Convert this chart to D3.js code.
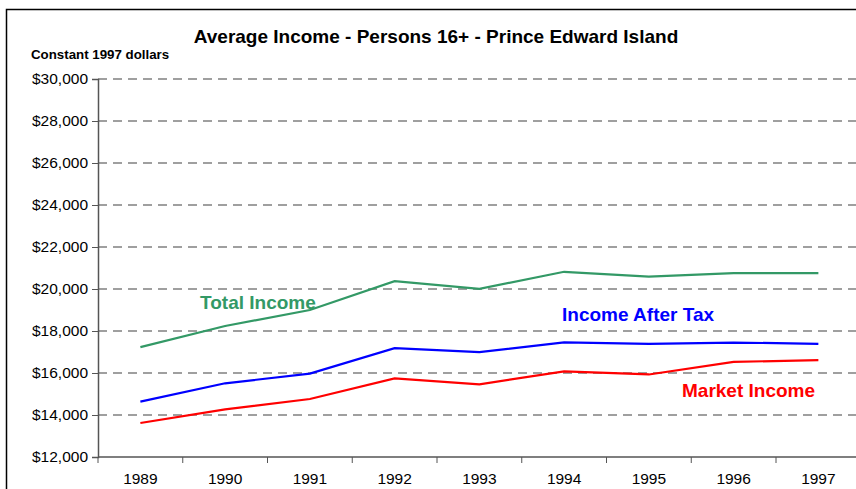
<!DOCTYPE html>
<html>
<head>
<meta charset="utf-8">
<script src="https://cdn.jsdelivr.net/npm/d3@7"></script>
<style>
  body { margin: 0; background: #fff; }
  svg { display: block; font-family: "Liberation Sans", Arial, sans-serif; }
</style>
</head>
<body>
<div id="chart"></div>
<script>
const years = ["1989", "1990", "1991", "1992", "1993", "1994", "1995", "1996", "1997"];
const totalIncome = [17230, 18240, 19000, 20370, 20010, 20820, 20590, 20760, 20760];
const afterTax = [14640, 15510, 15970, 17180, 16990, 17460, 17390, 17450, 17390];
const marketIncome = [13620, 14270, 14760, 15740, 15460, 16080, 15930, 16530, 16610];
const yTicks = [12000, 14000, 16000, 18000, 20000, 22000, 24000, 26000, 28000, 30000];

const series = [
    {name: "Total Income", values: totalIncome, color: "#339966", lx: 200, ly: 309},
    {name: "Income After Tax", values: afterTax, color: "#0000ff", lx: 562, ly: 321},
    {name: "Market Income", values: marketIncome, color: "#ff0000", lx: 682, ly: 397}
];

const W = 856, H = 489;
const margin = {top: 79, left: 98};
const plotW = 762.75, plotH = 378;

const svg = d3.select("#chart").append("svg")
    .attr("width", W)
    .attr("height", H);

// outer chart frame (runs off the right and bottom edge)
svg.append("rect")
    .attr("x", 6.5).attr("y", 9.5)
    .attr("width", 1000).attr("height", 1000)
    .attr("fill", "none")
    .attr("stroke", "#000")
    .attr("stroke-width", 1.5);

svg.append("text")
    .attr("x", 436).attr("y", 43)
    .attr("text-anchor", "middle")
    .attr("font-size", 19)
    .attr("font-weight", "bold")
    .text("Average Income - Persons 16+ - Prince Edward Island");

svg.append("text")
    .attr("x", 31).attr("y", 59)
    .attr("font-size", 13.3)
    .attr("font-weight", "bold")
    .text("Constant 1997 dollars");

const g = svg.append("g")
    .attr("transform", "translate(" + margin.left + "," + margin.top + ")");

const x = d3.scaleBand()
    .domain(years)
    .range([0, plotW]);

const y = d3.scaleLinear()
    .domain([12000, 30000])
    .range([plotH, 0]);

// gridlines
g.selectAll(".grid")
    .data(yTicks.filter(d => d > 12000))
    .enter()
    .append("line")
    .attr("class", "grid")
    .attr("x1", 0)
    .attr("x2", plotW)
    .attr("y1", d => y(d))
    .attr("y2", d => y(d))
    .attr("stroke", "#808080")
    .attr("stroke-width", 1.3)
    .attr("stroke-dasharray", "9,6");

// y axis
const yAxis = g.append("g")
    .call(d3.axisLeft(y).tickValues(yTicks).tickSize(6).tickPadding(4)
        .tickFormat(d => "$" + d3.format(",")(d)));
yAxis.select(".domain").attr("stroke", "#555").attr("stroke-width", 1.5);
yAxis.selectAll(".tick line").attr("stroke", "#555");
yAxis.selectAll("text").attr("font-size", 15.5).attr("fill", "#000")
    .attr("font-family", "Liberation Sans, Arial, sans-serif");

// x axis with ticks between categories
const xAxisG = g.append("g")
    .attr("transform", "translate(0," + plotH + ")");
xAxisG.append("line")
    .attr("x1", 0).attr("x2", plotW)
    .attr("stroke", "#555").attr("stroke-width", 1.5);
xAxisG.selectAll(".xtick")
    .data(years)
    .enter()
    .append("line")
    .attr("x1", d => x(d))
    .attr("x2", d => x(d))
    .attr("y1", 0).attr("y2", 6)
    .attr("stroke", "#555");
xAxisG.selectAll(".xlabel")
    .data(years)
    .enter()
    .append("text")
    .attr("x", d => x(d) + x.bandwidth() / 2)
    .attr("y", 27)
    .attr("text-anchor", "middle")
    .attr("font-size", 15.5)
    .text(d => d);

// lines
const line = d3.line()
    .x((d, i) => x(years[i]) + x.bandwidth() / 2)
    .y(d => y(d));

series.forEach(s => {
    g.append("path")
        .datum(s.values)
        .attr("d", line)
        .attr("fill", "none")
        .attr("stroke", s.color)
        .attr("stroke-width", 2.2);

    svg.append("text")
        .attr("x", s.lx).attr("y", s.ly)
        .attr("font-size", 19)
        .attr("font-weight", "bold")
        .attr("fill", s.color)
        .text(s.name);
});
</script>
</body>
</html>
